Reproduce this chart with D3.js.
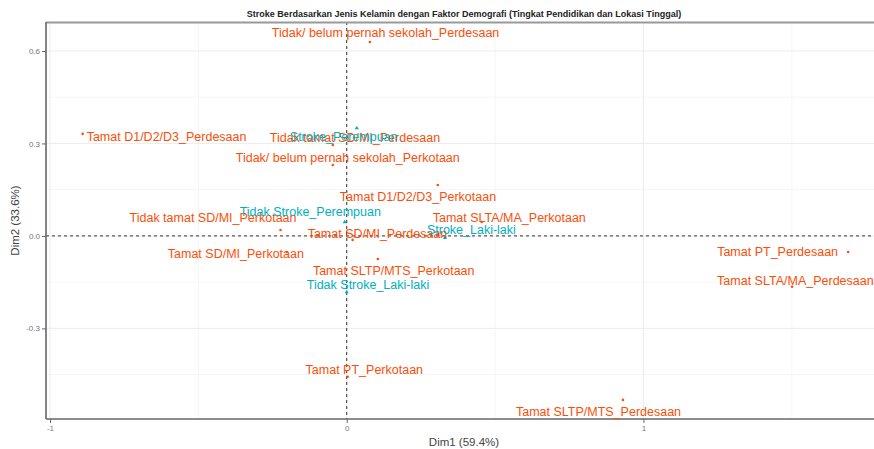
<!DOCTYPE html>
<html>
<head>
<meta charset="utf-8">
<script src="https://cdn.jsdelivr.net/npm/d3@7/dist/d3.min.js"></script>
<style>
  html, body { margin: 0; padding: 0; background: #fff; }
  svg { display: block; font-family: "Liberation Sans", Arial, sans-serif; }
</style>
</head>
<body>
<svg id="chart" width="874" height="449"></svg>
<script>
// Correspondence analysis biplot: education level x residence (rows), stroke status x sex (columns)
const rowLabels = [
  "Tidak/ belum pernah sekolah_Perdesaan",
  "Tamat D1/D2/D3_Perdesaan",
  "Tidak tamat SD/MI_Perdesaan",
  "Tidak/ belum pernah sekolah_Perkotaan",
  "Tamat D1/D2/D3_Perkotaan",
  "Tidak tamat SD/MI_Perkotaan",
  "Tamat SLTA/MA_Perkotaan",
  "Tamat SD/MI_Perdesaan",
  "Tamat SD/MI_Perkotaan",
  "Tamat SLTP/MTS_Perkotaan",
  "Tamat PT_Perkotaan",
  "Tamat SLTP/MTS_Perdesaan",
  "Tamat PT_Perdesaan",
  "Tamat SLTA/MA_Perdesaan"
];
const rowDim1 = [0.078, -0.890, -0.047, -0.047, 0.307, -0.223, 0.455, 0.020, -0.202, 0.105, 0.003, 0.931, 1.690, 1.501];
const rowDim2 = [0.629, 0.331, 0.295, 0.230, 0.165, 0.019, 0.045, -0.013, -0.052, -0.075, -0.457, -0.532, -0.052, -0.165];

const colLabels = [
  "Stroke_Perempuan",
  "Tidak Stroke_Perempuan",
  "Stroke_Laki-laki",
  "Tidak Stroke_Laki-laki"
];
const colDim1 = [0.034, -0.007, 0.331, 0.000];
const colDim2 = [0.350, 0.045, -0.006, -0.182];

const xTicks = [-1, 0, 1];
const yTicks = [-0.3, 0.0, 0.3, 0.6];
const xTickText = ["-1", "0", "1"];
const yTickText = ["-0.3", "0.0", "0.3", "0.6"];

const chartTitle = "Stroke Berdasarkan Jenis Kelamin dengan Faktor Demografi (Tingkat Pendidikan dan Lokasi Tinggal)";
const xTitle = "Dim1 (59.4%)";
const yTitle = "Dim2 (33.6%)";

// repelled label placement (pixel nudge from each point to the label's left edge / middle)
const rowLabelNudge = [
  [-98, -9], [4, 3], [-63, -7], [-97, -7], [-98, 12], [-151, -12], [-49, -4],
  [-45, -6], [-119, 2], [-65, 12], [-42, -7], [-107, 12], [-131, 0], [-75, -6]
];
const colLabelNudge = [[-67, 9], [-105, -10], [-18, -8], [-40, -7]];

const rowColor = "#FC4E07";
const colColor = "#00AFBB";

const svg = d3.select("#chart");
const panel = { left: 46, top: 22, right: 882, bottom: 419 };

const x = d3.scaleLinear().domain([-1.0135, 1.804]).range([panel.left, panel.right]);
const y = d3.scaleLinear().domain([-0.594, 0.694]).range([panel.bottom, panel.top]);

svg.append("clipPath").attr("id", "clip")
  .append("rect").attr("x", panel.left).attr("y", panel.top)
  .attr("width", panel.right - panel.left).attr("height", panel.bottom - panel.top);

// grid
const grid = svg.append("g");
const xMinor = [-0.5, 0.5, 1.5];
const yMinor = [-0.45, -0.15, 0.15, 0.45];
grid.selectAll("line.xm").data(xMinor).join("line")
  .attr("x1", d => x(d)).attr("x2", d => x(d)).attr("y1", panel.top).attr("y2", panel.bottom)
  .attr("stroke", "#f4f4f4").attr("stroke-width", 0.8);
grid.selectAll("line.ym").data(yMinor).join("line")
  .attr("y1", d => y(d)).attr("y2", d => y(d)).attr("x1", panel.left).attr("x2", panel.right)
  .attr("stroke", "#f4f4f4").attr("stroke-width", 0.8);
grid.selectAll("line.xM").data(xTicks).join("line")
  .attr("x1", d => x(d)).attr("x2", d => x(d)).attr("y1", panel.top).attr("y2", panel.bottom)
  .attr("stroke", "#ececec").attr("stroke-width", 1);
grid.selectAll("line.yM").data(yTicks).join("line")
  .attr("y1", d => y(d)).attr("y2", d => y(d)).attr("x1", panel.left).attr("x2", panel.right)
  .attr("stroke", "#ececec").attr("stroke-width", 1);

// reference lines through the origin
svg.append("line")
  .attr("x1", x(0)).attr("x2", x(0)).attr("y1", panel.top).attr("y2", panel.bottom)
  .attr("stroke", "#333").attr("stroke-width", 1).attr("stroke-dasharray", "3,3");
svg.append("line")
  .attr("y1", y(0)).attr("y2", y(0)).attr("x1", panel.left).attr("x2", panel.right)
  .attr("stroke", "#333").attr("stroke-width", 1).attr("stroke-dasharray", "3,3");

// top border
svg.append("line")
  .attr("x1", panel.left).attr("x2", panel.right).attr("y1", panel.top + 0.5).attr("y2", panel.top + 0.5)
  .attr("stroke", "#999").attr("stroke-width", 2);

// axes
const xAxis = svg.append("g").attr("transform", `translate(0,${panel.bottom})`)
  .call(d3.axisBottom(x).tickValues(xTicks).tickSize(4).tickPadding(2)
    .tickFormat((d, i) => xTickText[i]));
const yAxis = svg.append("g").attr("transform", `translate(${panel.left},0)`)
  .call(d3.axisLeft(y).tickValues(yTicks).tickSize(4).tickPadding(2)
    .tickFormat((d, i) => yTickText[yTicks.indexOf(d)]));
[xAxis, yAxis].forEach(a => {
  a.select(".domain").attr("stroke", "#666").attr("stroke-width", 1.6);
  a.selectAll(".tick line").attr("stroke", "#666");
  a.selectAll(".tick text").attr("fill", "#777").attr("font-size", 8)
    .attr("font-family", "Liberation Sans, Arial, sans-serif");
});
xAxis.select(".domain").attr("d", `M${panel.left},0H${panel.right}`);
yAxis.select(".domain").attr("d", `M0,${panel.top}V${panel.bottom}`);

// points and labels
const plot = svg.append("g").attr("clip-path", "url(#clip)");

const rows = rowLabels.map((name, i) => ({ name, d1: rowDim1[i], d2: rowDim2[i], nudge: rowLabelNudge[i] }));
const cols = colLabels.map((name, i) => ({ name, d1: colDim1[i], d2: colDim2[i], nudge: colLabelNudge[i] }));

plot.selectAll("circle.row").data(rows).join("circle")
  .attr("cx", d => x(d.d1)).attr("cy", d => y(d.d2)).attr("r", 1.3)
  .attr("fill", rowColor);
const tri = d3.symbol().type(d3.symbolTriangle).size(7);
plot.selectAll("path.col").data(cols).join("path")
  .attr("d", tri)
  .attr("transform", d => `translate(${x(d.d1)},${y(d.d2)})`)
  .attr("fill", colColor);

plot.selectAll("text.row").data(rows).join("text")
  .attr("x", d => x(d.d1) + d.nudge[0]).attr("y", d => y(d.d2) + d.nudge[1])
  .attr("dominant-baseline", "central")
  .attr("font-size", 12.5).attr("fill", rowColor)
  .text(d => d.name);
plot.selectAll("text.col").data(cols).join("text")
  .attr("x", d => x(d.d1) + d.nudge[0]).attr("y", d => y(d.d2) + d.nudge[1])
  .attr("dominant-baseline", "central")
  .attr("font-size", 12.5).attr("fill", colColor)
  .text(d => d.name);

// titles
const cx = (panel.left + panel.right) / 2;
svg.append("text").attr("x", cx).attr("y", 14).attr("text-anchor", "middle")
  .attr("dominant-baseline", "central")
  .attr("font-size", 9).attr("font-weight", "bold").attr("fill", "#222")
  .text(chartTitle);
svg.append("text").attr("x", cx).attr("y", 442).attr("text-anchor", "middle")
  .attr("dominant-baseline", "central")
  .attr("font-size", 11.5).attr("fill", "#444")
  .text(xTitle);
svg.append("text").attr("transform", `translate(15,${(panel.top + panel.bottom) / 2}) rotate(-90)`)
  .attr("text-anchor", "middle").attr("dominant-baseline", "central")
  .attr("font-size", 11.5).attr("fill", "#444")
  .text(yTitle);
</script>
</body>
</html>
